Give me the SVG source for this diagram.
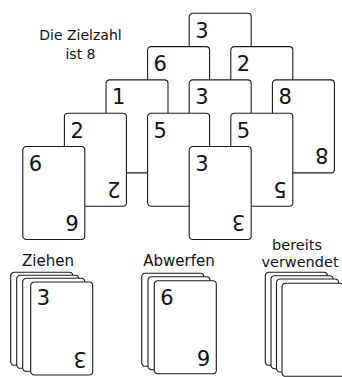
<svg xmlns="http://www.w3.org/2000/svg" width="342" height="377" viewBox="0 0 342 377">
<style>
.card{fill:#fff;stroke:#1a1a1a;stroke-width:1.1}
.num{font-family:"DejaVu Sans",sans-serif;font-size:21px;fill:#111}
.lbl{font-family:"DejaVu Sans",sans-serif;font-size:14px;fill:#111;text-anchor:middle}
.plbl{font-family:"DejaVu Sans",sans-serif;font-size:15px;fill:#111;text-anchor:middle}
</style>
<defs>
<rect id="cardShape" class="card" x="0" y="0" width="62" height="93" rx="3.5"/>
</defs>
<rect width="342" height="377" fill="#fff"/>
<g id="title">
<text class="lbl" x="80.5" y="40">Die Zielzahl</text>
<text class="lbl" x="80.5" y="59">ist 8</text>
</g>
<g id="pyramid">
<g id="card-r1-3" transform="translate(189.2,13.3)"><use href="#cardShape"/><text class="num" x="6" y="24.5">3</text><text class="num" x="6" y="24.5" transform="rotate(180 31 46.5)">3</text></g>
<g id="card-r2-6" transform="translate(147.6,46.6)"><use href="#cardShape"/><text class="num" x="6" y="24.5">6</text><text class="num" x="6" y="24.5" transform="rotate(180 31 46.5)">6</text></g>
<g id="card-r2-2" transform="translate(230.8,46.6)"><use href="#cardShape"/><text class="num" x="6" y="24.5">2</text><text class="num" x="6" y="24.5" transform="rotate(180 31 46.5)">2</text></g>
<g id="card-r3-1" transform="translate(106,79.9)"><use href="#cardShape"/><text class="num" x="6" y="24.5">1</text><text class="num" x="6" y="24.5" transform="rotate(180 31 46.5)">1</text></g>
<g id="card-r3-3" transform="translate(189.2,79.9)"><use href="#cardShape"/><text class="num" x="6" y="24.5">3</text><text class="num" x="6" y="24.5" transform="rotate(180 31 46.5)">3</text></g>
<g id="card-r3-8" transform="translate(272.4,79.9)"><use href="#cardShape"/><text class="num" x="6" y="24.5">8</text><text class="num" x="6" y="24.5" transform="rotate(180 31 46.5)">8</text></g>
<g id="card-r4-2" transform="translate(64.4,113.2)"><use href="#cardShape"/><text class="num" x="6" y="24.5">2</text><text class="num" x="6" y="24.5" transform="rotate(180 31 46.5)">2</text></g>
<g id="card-r4-5a" transform="translate(147.6,113.2)"><use href="#cardShape"/><text class="num" x="6" y="24.5">5</text><text class="num" x="6" y="24.5" transform="rotate(180 31 46.5)">5</text></g>
<g id="card-r4-5b" transform="translate(230.8,113.2)"><use href="#cardShape"/><text class="num" x="6" y="24.5">5</text><text class="num" x="6" y="24.5" transform="rotate(180 31 46.5)">5</text></g>
<g id="card-r5-6" transform="translate(22.8,146.5)"><use href="#cardShape"/><text class="num" x="6" y="24.5">6</text><text class="num" x="6" y="24.5" transform="rotate(180 31 46.5)">6</text></g>
<g id="card-r5-3" transform="translate(189.2,146.5)"><use href="#cardShape"/><text class="num" x="6" y="24.5">3</text><text class="num" x="6" y="24.5" transform="rotate(180 31 46.5)">3</text></g>
</g>
<g id="pile-ziehen">
<text class="plbl" x="48" y="266">Ziehen</text>
<use href="#cardShape" x="10.7" y="272.3"/>
<use href="#cardShape" x="16.7" y="275.3"/>
<use href="#cardShape" x="22.7" y="278.3"/>
<g transform="translate(30.7,282)"><use href="#cardShape"/><text class="num" x="6" y="23">3</text><text class="num" x="6" y="23" transform="rotate(180 31 46.5)">3</text></g>
</g>
<g id="pile-abwerfen">
<text class="plbl" x="179" y="266">Abwerfen</text>
<use href="#cardShape" x="141.7" y="273.3"/>
<use href="#cardShape" x="148" y="276.7"/>
<g transform="translate(154.3,280.7)"><use href="#cardShape"/><text class="num" x="6" y="24">6</text><text class="num" x="6" y="24" transform="rotate(180 31 46.5)">6</text></g>
</g>
<g id="pile-verwendet">
<text class="plbl" x="297" y="249.5" style="font-size:14.5px">bereits</text>
<text class="plbl" x="300" y="267" style="font-size:14.5px">verwendet</text>
<use href="#cardShape" x="265.3" y="272.3"/>
<use href="#cardShape" x="271" y="275.7"/>
<use href="#cardShape" x="276.5" y="279"/>
<use href="#cardShape" x="282" y="283.3"/>
</g>
</svg>
